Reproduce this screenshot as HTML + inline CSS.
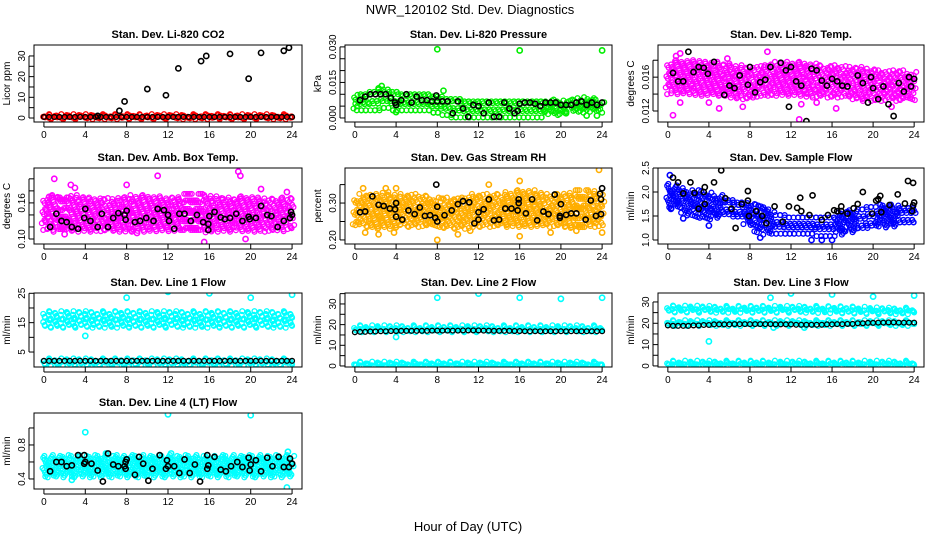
<!DOCTYPE html>
<html><head><meta charset="utf-8">
<style>
html,body{margin:0;padding:0;background:#fff;}
svg{display:block;font-family:"Liberation Sans",sans-serif;}
</style></head>
<body>
<svg id="chart" width="936" height="540" viewBox="0 0 936 540" xmlns="http://www.w3.org/2000/svg">
<rect width="936" height="540" fill="#fff"/>
<text x="470" y="14" font-size="13" text-anchor="middle">NWR_120102  Std. Dev. Diagnostics</text>
<text x="468" y="531" font-size="13" text-anchor="middle">Hour of Day (UTC)</text>
</svg>
<script>
const xTicks = [0,4,8,12,16,20,24];
const c = v => Array(25).fill(v);

// Panel 1 CO2
const co2RedHi = c(1.0), co2RedLo = c(0.3);
const co2BlackRow = c(0.5);
const co2Black = [[5.2,1],[7.3,3.5],[7.8,8],[10,14],[11.8,11],[13,24],[15.2,27.5],[15.7,30],[18,31],[19.8,19],[21,31.5],[23.2,32.5],[23.7,34]];
// Panel 2 Pressure
const presHi = [0.009,0.010,0.011,0.012,0.011,0.010,0.010,0.010,0.009,0.008,0.008,0.007,0.007,0.007,0.007,0.007,0.007,0.007,0.007,0.007,0.007,0.007,0.008,0.008,0.007];
const presLo = [0.004,0.004,0.004,0.005,0.004,0.004,0.004,0.004,0.003,0.002,0.001,0.001,0.001,0.001,0.001,0.001,0.001,0.001,0.001,0.002,0.002,0.003,0.003,0.003,0.003];
const presOut = [[8,0.029],[16,0.0285],[24,0.0285],[2.3,0.0125],[2.6,0.0135],[8.6,0.0115],[4,0.0025],[22.5,0.001],[23.5,0.001],[20.5,0.002]];
const presBlack = [[0.5,0.0075],[1,0.009],[1.5,0.010],[2,0.010],[2.5,0.010],[3,0.010],[3.5,0.0085],[3.9,0.0065],[4,0.0055],[4.5,0.0075],[5,0.0100],[5.5,0.0065],[6,0.0090],[6.5,0.0075],[7,0.0075],[7.5,0.0070],[7.9,0.0095],[8,0.0070],[8.5,0.0070],[9,0.0070],[9.5,0.0020],[10,0.0070],[10.5,0.0040],[11,0.0005],[11.5,0.0055],[12,0.0050],[12.5,0.0020],[13,0.0065],[13.5,0.0005],[14,0.0005],[14.5,0.0065],[15,0.0040],[15.5,0.0020],[15.8,0.0030],[16,0.0060],[16.5,0.0065],[17,0.0065],[17.5,0.0060],[18,0.0050],[18.5,0.0065],[19,0.0065],[19.5,0.0065],[20,0.0055],[20.5,0.0055],[21,0.0055],[21.5,0.0065],[22,0.0070],[22.5,0.0055],[23,0.0065],[23.5,0.0055],[24,0.0065]];
// Panel 3 Li-820 Temp
const tempHi = [.0175,.0178,.0178,.0178,.0176,.0176,.0174,.0172,.0170,.0172,.0174,.0176,.0176,.0176,.0174,.0172,.0172,.0172,.0170,.0170,.0168,.0166,.0166,.0166,.0164];
const tempLo = [.0142,.0142,.0142,.0140,.0140,.0140,.0138,.0136,.0136,.0138,.0140,.0140,.0140,.0140,.0138,.0138,.0138,.0138,.0136,.0134,.0134,.0134,.0134,.0134,.0134];
const tempOut = [[0.5,0.0115],[1.2,0.0130],[5,0.0123],[7.3,0.0125],[9.7,0.019],[13,0.0128],[14.5,0.0130],[0.8,0.0185],[5.8,0.0182],[12.8,0.0110],[16.4,0.0123],[21.8,0.0125],[1.2,0.0188],[4,0.0130]];
const tempBlack = [[0.5,0.0165],[1,0.0155],[1.5,0.0155],[2,0.0190],[2.5,0.0166],[3,0.0172],[3.5,0.0171],[3.9,0.0164],[4.5,0.0178],[5.5,0.0139],[6,0.0150],[6.5,0.0147],[7,0.0162],[7.8,0.0151],[8,0.0172],[8.5,0.0142],[9,0.0154],[9.5,0.0157],[10,0.0172],[11,0.0177],[11.5,0.0168],[11.8,0.0125],[12,0.0172],[12.5,0.0155],[13,0.0150],[13.5,0.0108],[14,0.0170],[14.5,0.0168],[15,0.0156],[15.5,0.0150],[16,0.0158],[16.5,0.0155],[17,0.0150],[17.5,0.0149],[18.5,0.0162],[19,0.0153],[19.5,0.0130],[19.8,0.0160],[20,0.0147],[20.5,0.0134],[21,0.0149],[21.5,0.0128],[22,0.0114],[22.5,0.0153],[23,0.0143],[23.5,0.0160],[23.7,0.0149],[24,0.0158]];
// Panel 4 Amb Box Temp
const ambHi = [.165,.17,.172,.17,.168,.166,.165,.165,.168,.17,.17,.168,.166,.168,.172,.172,.17,.168,.166,.168,.168,.166,.164,.166,.165];
const ambLo = [.118,.115,.115,.115,.115,.115,.116,.115,.114,.115,.115,.116,.116,.115,.115,.115,.114,.115,.115,.116,.115,.115,.115,.116,.118];
const ambOut = [[1,0.2],[2.6,0.19],[8,0.19],[11,0.205],[15.5,0.095],[18.8,0.212],[19,0.205],[21,0.183],[23.5,0.178],[2,0.108],[9,0.11],[19.5,0.1],[0.5,0.17],[3,0.185]];
const ambBlack = [[0.6,0.12],[1.2,0.142],[1.7,0.13],[2.2,0.128],[2.7,0.12],[3.3,0.117],[3.9,0.135],[4,0.15],[4.5,0.13],[5.2,0.12],[5.6,0.142],[6.2,0.12],[6.7,0.135],[7.2,0.143],[7.8,0.14],[7.9,0.132],[8,0.147],[8.8,0.128],[9.3,0.13],[9.9,0.135],[10.6,0.13],[11,0.15],[11.6,0.148],[12,0.14],[12.1,0.13],[12.6,0.117],[13.1,0.142],[13.6,0.142],[14.2,0.13],[14.8,0.14],[15.4,0.128],[15.9,0.125],[15.9,0.115],[16,0.138],[16.5,0.145],[17.1,0.136],[17.5,0.133],[18,0.135],[18.6,0.142],[19.2,0.13],[19.8,0.137],[19.9,0.133],[20.5,0.135],[21,0.155],[21.6,0.14],[22,0.138],[22.6,0.12],[23.2,0.13],[23.8,0.135],[23.9,0.145],[24,0.14]];
// Panel 5 Gas Stream RH
const rhHi = [.31,.32,.32,.325,.32,.32,.32,.315,.31,.31,.31,.315,.32,.32,.32,.325,.33,.33,.325,.32,.32,.325,.33,.33,.32];
const rhLo = [.24,.24,.235,.235,.235,.24,.24,.24,.24,.235,.235,.235,.24,.24,.24,.24,.24,.24,.24,.24,.24,.235,.235,.24,.24];
const rhOut = [[1,0.22],[2.3,0.215],[3.8,0.22],[8,0.2],[10,0.215],[11.2,0.225],[16,0.21],[19,0.22],[21.5,0.225],[24,0.22],[23.7,0.39],[16,0.36],[13,0.35],[0.8,0.34],[3,0.34],[4,0.34]];
const rhBlack = [[0.5,0.275],[1,0.277],[1.7,0.318],[2.3,0.295],[2.8,0.292],[3.4,0.285],[3.9,0.283],[4,0.263],[4,0.3],[4.6,0.255],[5.2,0.28],[5.8,0.27],[6.3,0.288],[6.8,0.265],[7.3,0.267],[7.8,0.26],[8,0.25],[8,0.29],[7.9,0.35],[8.7,0.267],[9.4,0.28],[10,0.297],[10.5,0.305],[11.1,0.302],[11.6,0.245],[12,0.275],[12,0.255],[12.5,0.283],[13,0.31],[13.5,0.253],[14,0.255],[14.6,0.285],[15.2,0.285],[15.8,0.28],[15.9,0.31],[15.9,0.3],[16.6,0.272],[17.2,0.31],[17.7,0.253],[18.3,0.277],[18.8,0.27],[19.4,0.323],[19.9,0.265],[19.9,0.26],[20,0.297],[20.5,0.268],[21,0.272],[21.5,0.272],[22.4,0.255],[22.9,0.307],[23.4,0.265],[23.8,0.325],[23.9,0.31],[24,0.34],[23.9,0.27]];
// Panel 6 Sample Flow
const sfHi = [2.15,2.1,2.0,2.0,1.95,1.9,1.85,1.8,1.75,1.7,1.6,1.5,1.45,1.45,1.45,1.45,1.45,1.55,1.6,1.6,1.65,1.7,1.7,1.7,1.7];
const sfLo = [1.7,1.7,1.55,1.5,1.45,1.5,1.5,1.45,1.35,1.2,1.15,1.15,1.15,1.15,1.15,1.1,1.1,1.15,1.2,1.25,1.3,1.3,1.3,1.35,1.35];
const sfOut = [[0.2,2.35],[0.3,1.65],[4,1.3],[15,1.0],[16,1.0],[14,1.0],[9,1.05],[1.5,1.45]];
const sfBlack = [[0.5,2.3],[1,2.2],[1.5,1.97],[2.2,2.2],[2.6,1.98],[3,1.65],[3.5,2.0],[3.6,1.75],[3.6,2.1],[4.5,2.2],[5.2,2.45],[5.6,1.87],[6.2,1.65],[6.6,1.25],[7.2,1.75],[7.8,2.02],[7.8,1.82],[7.9,1.5],[8.6,1.6],[9.2,1.5],[9.6,1.35],[10.4,1.7],[11.2,1.38],[11.8,1.7],[12.6,1.67],[13,1.6],[12.9,1.88],[13.8,1.52],[14.1,1.93],[15,1.42],[15.6,1.52],[16.2,1.62],[16.5,1.6],[16.9,1.7],[16.9,1.6],[17.5,1.55],[18.1,1.66],[18.5,1.75],[19,2.0],[19.9,1.55],[20.3,1.82],[20.5,1.85],[20.7,1.92],[20.8,1.58],[21.6,1.73],[22.4,1.95],[23.1,1.76],[23.4,2.23],[23.9,2.19],[24,1.78],[23.8,1.6],[23.9,1.72]];
// Panel 7 Line 1
const l1aHi = c(18.3), l1aLo = c(16.7), l1bHi = c(15.5), l1bLo = c(13.9), l1cHi = c(2.2), l1cLo = c(0.8);
const l1BlackRow = c(2.0);
const l1Out = [[8,23.5],[12,25.5],[16,25],[20,23.5],[24,24.5],[4,10.5]];
// Panel 8 Line 2
const l2aHi = c(18.8), l2aLo = c(17.2), l2bHi = c(1.2), l2bLo = c(0.3);
const l2BlackRow = [16.3,16.5,16.7,16.8,16.9,17,17,17,17.1,17.1,17.1,17.2,17.2,17.1,17,17,16.9,16.8,16.8,16.8,16.8,16.8,16.8,16.8,16.8];
const l2Out = [[8,33],[12,35],[16,33],[20,32.5],[24,33],[4,14]];
// Panel 9 Line 3
const l3aHi = [27.5,27.5,27.4,27.4,27.3,27.3,27.3,27.3,27.3,27.3,27.3,27.3,27.3,27.3,27.3,27.3,27.2,27.1,27,26.9,26.7,26.6,26.5,26.5,26.5];
const l3aLo = [25.9,25.9,25.9,25.8,25.8,25.8,25.8,25.8,25.8,25.8,25.8,25.8,25.8,25.8,25.8,25.7,25.6,25.5,25.4,25.3,25.2,25.1,25.1,25.1,25.1];
const l3bHi = c(20.6), l3bLo = c(19.6), l3cHi = c(1.6), l3cLo = c(0.4);
const l3BlackRow = [19,18.8,18.8,19,19.2,19.5,19.5,19.6,19.6,19.6,19.6,19.5,19.5,19.3,19.3,19.3,19.5,19.6,19.7,20,20.2,20.3,20.4,20.3,20.3];
const l3Out = [[10,32],[12,34],[16,33.5],[20,32.5],[24,33],[4,11.5],[10.3,18],[13.3,18]];
// Panel 10 Line 4
const l4Hi = c(0.66), l4Lo = c(0.44);
const l4Out = [[4,0.95],[12,1.16],[20,1.15],[23.5,0.3],[2.7,0.39],[23.6,0.72],[6,0.7],[12.3,0.7]];
const l4Black = [[0.6,0.49],[1.2,0.6],[1.7,0.6],[2.2,0.55],[2.7,0.56],[3.3,0.68],[3.9,0.68],[3.9,0.58],[4,0.6],[4.6,0.58],[5.2,0.5],[5.7,0.37],[6.2,0.7],[6.7,0.57],[7.2,0.55],[7.8,0.55],[7.9,0.6],[7.9,0.52],[8,0.63],[8.8,0.45],[9.2,0.66],[9.6,0.58],[10.1,0.38],[10.5,0.52],[11.2,0.68],[11.8,0.52],[11.9,0.62],[12,0.55],[12.6,0.55],[13.1,0.47],[13.6,0.63],[14.1,0.47],[14.6,0.57],[15.1,0.37],[15.8,0.68],[15.8,0.52],[15.9,0.56],[16.5,0.66],[17.1,0.51],[17.6,0.49],[18.1,0.55],[18.7,0.6],[19.2,0.54],[19.8,0.65],[19.9,0.5],[20,0.57],[20.5,0.62],[21,0.49],[21.6,0.65],[22.1,0.55],[22.7,0.66],[23.2,0.54],[23.7,0.54],[23.8,0.64],[24,0.58]];

const cols = [[34,302],[345,612],[658,924]];
const rows = [[45,122],[168,244],[293,367],[413,489]];
const CY='#00ffff';
const panels = [
 {name:'co2',title:'Stan. Dev. Li-820 CO2',ylab:'Licor ppm',col:0,row:0,dom:[-1.94,35.3],ticks:[0,5,10,15,20,25,30],labels:[0,10,20,30],
  clouds:[{color:'#ff0000',bands:[[co2RedHi,co2RedLo]],pts:[]},{color:'#000',bands:[[co2BlackRow,co2BlackRow]],step:0.5,pts:co2Black}]},
 {name:'pressure',title:'Stan. Dev. Li-820 Pressure',ylab:'kPa',col:1,row:0,dom:[-0.0017,0.0308],ticks:[0,0.005,0.01,0.015,0.02,0.025,0.03],labels:['0.000','0.015','0.030'],
  clouds:[{color:'#00ee00',bands:[[presHi,presLo]],pts:presOut},{color:'#000',bands:[],pts:presBlack}]},
 {name:'licor-temp',title:'Stan. Dev. Li-820 Temp.',ylab:'degrees C',col:2,row:0,dom:[0.0107,0.0198],ticks:[0.012,0.014,0.016,0.018],labels:['0.012','0.016'],
  clouds:[{color:'#ff00ff',bands:[[tempHi,tempLo]],pts:tempOut},{color:'#000',bands:[],pts:tempBlack}]},
 {name:'amb-box-temp',title:'Stan. Dev. Amb. Box Temp.',ylab:'degrees C',col:0,row:1,dom:[0.0917,0.218],ticks:[0.10,0.12,0.14,0.16,0.18,0.20],labels:['0.10','0.16'],
  clouds:[{color:'#ff00ff',bands:[[ambHi,ambLo]],pts:ambOut},{color:'#000',bands:[],pts:ambBlack}]},
 {name:'gas-stream-rh',title:'Stan. Dev. Gas Stream RH',ylab:'percent',col:1,row:1,dom:[0.189,0.395],ticks:[0.20,0.25,0.30,0.35],labels:['0.20','0.30'],
  clouds:[{color:'#ffae00',bands:[[rhHi,rhLo]],pts:rhOut},{color:'#000',bands:[],pts:rhBlack}]},
 {name:'sample-flow',title:'Stan. Dev. Sample Flow',ylab:'ml/min',col:2,row:1,dom:[0.917,2.5],ticks:[1,1.5,2,2.5],labels:['1.0','1.5','2.0','2.5'],
  clouds:[{color:'#0000ff',bands:[[sfHi,sfLo]],pts:sfOut},{color:'#000',bands:[],pts:sfBlack}]},
 {name:'line1-flow',title:'Stan. Dev. Line 1 Flow',ylab:'ml/min',col:0,row:2,dom:[-0.1,25.1],ticks:[5,10,15,20,25],labels:[5,15,25],
  clouds:[{color:CY,bands:[[l1aHi,l1aLo],[l1bHi,l1bLo],[l1cHi,l1cLo]],pts:l1Out},{color:'#000',bands:[[l1BlackRow,l1BlackRow]],step:0.5,pts:[]}]},
 {name:'line2-flow',title:'Stan. Dev. Line 2 Flow',ylab:'ml/min',col:1,row:2,dom:[-0.5,35.3],ticks:[0,5,10,15,20,25,30,35],labels:[0,10,20,30],
  clouds:[{color:CY,bands:[[l2aHi,l2aLo],[l2bHi,l2bLo]],pts:l2Out},{color:'#000',bands:[[l2BlackRow,l2BlackRow]],step:0.5,pts:[]}]},
 {name:'line3-flow',title:'Stan. Dev. Line 3 Flow',ylab:'ml/min',col:2,row:2,dom:[-0.5,34.2],ticks:[0,5,10,15,20,25,30],labels:[0,10,20,30],
  clouds:[{color:CY,bands:[[l3aHi,l3aLo],[l3bHi,l3bLo],[l3cHi,l3cLo]],pts:l3Out},{color:'#000',bands:[[l3BlackRow,l3BlackRow]],step:0.5,pts:[]}]},
 {name:'line4-flow',title:'Stan. Dev. Line 4 (LT) Flow',ylab:'ml/min',col:0,row:3,dom:[0.282,1.176],ticks:[0.4,0.6,0.8,1.0],labels:['0.4','0.8'],
  clouds:[{color:CY,bands:[[l4Hi,l4Lo]],pts:l4Out},{color:'#000',bands:[],pts:l4Black}]}
];

const NS='http://www.w3.org/2000/svg';
const svg=document.getElementById('chart');
function mk(tag,attrs,parent){const e=document.createElementNS(NS,tag);for(const k in attrs)e.setAttribute(k,attrs[k]);(parent||svg).appendChild(e);return e;}

panels.forEach(p=>{
  const [L,R]=cols[p.col],[T,B]=rows[p.row];
  const xs=v=>L+(v+0.96)/25.92*(R-L);
  const ys=v=>B-(v-p.dom[0])/(p.dom[1]-p.dom[0])*(B-T);
  const g=mk('g',{});
  
  
  const clip=mk('clipPath',{id:'clip-'+p.name},g);
  mk('rect',{x:L,y:T,width:R-L,height:B-T},clip);
  const pg=mk('g',{'clip-path':'url(#clip-'+p.name+')'},g);
  
  
  p.clouds.forEach(cl=>{
    const step=cl.step||0.25;
    cl.bands.forEach(([hi,lo])=>{
      let idx=0;
      for(let x=0;x<=24.001;x+=step){
        const h=Math.min(24,Math.round(x));
        const y1=ys(hi[h]),y2=ys(lo[h]);
        const single=y1===y2;
        const n=Math.max(1,Math.round(Math.abs(y2-y1)/4));
        for(let k=0;k<=(single?0:n);k++){
          idx++;
          const yy=single?y1:y1+(y2-y1)*k/n;
          const jx=single?0:((idx*37)%7-3)*0.7;
          const jy=single?0:((idx*53)%5-2)*0.9;
          const ci=mk('circle',{cx:xs(x)+jx,cy:yy+jy,r:2.4,fill:'none',stroke:cl.color,'stroke-width':1.3},pg);
          
          
        }
      }
    });
    cl.pts.forEach(([x,y])=>{
      const ci=mk('circle',{cx:xs(x),cy:ys(y),r:2.6,fill:'none',stroke:cl.color,'stroke-width':1.6},pg);
      
      
    });
  });
  const box=mk('rect',{x:L,y:T,width:R-L,height:B-T,fill:'none',stroke:'#000','stroke-width':1},g);
  
  
  const t=mk('text',{x:(L+R)/2,y:T-7,'font-size':11,'font-weight':'bold','text-anchor':'middle'},g);
  t.textContent=p.title;
  
  
  xTicks.forEach(v=>{
    mk('line',{x1:xs(v),x2:xs(v),y1:B,y2:B+5,stroke:'#000'},g);
    const tl=mk('text',{x:xs(v),y:B+16,'font-size':10,'text-anchor':'middle'},g);
    tl.textContent=v;
    
    
  });
  mk('line',{x1:xs(0),x2:xs(24),y1:B+5,y2:B+5,stroke:'#000'},g);
  p.ticks.forEach(v=>{mk('line',{x1:L-5,x2:L,y1:ys(v),y2:ys(v),stroke:'#000'},g);});
  mk('line',{x1:L-5,x2:L-5,y1:ys(p.ticks[0]),y2:ys(p.ticks[p.ticks.length-1]),stroke:'#000'},g);
  p.labels.forEach(v=>{
    const yl=mk('text',{transform:`translate(${L-9},${ys(+v)}) rotate(-90)`,'font-size':10,'text-anchor':'middle'},g);
    yl.textContent=v;
    
    
  });
  const ya=mk('text',{transform:`translate(${L-24},${(T+B)/2}) rotate(-90)`,'font-size':10,'text-anchor':'middle'},g);
  ya.textContent=p.ylab;
  
  
});
</script>
</body></html>
